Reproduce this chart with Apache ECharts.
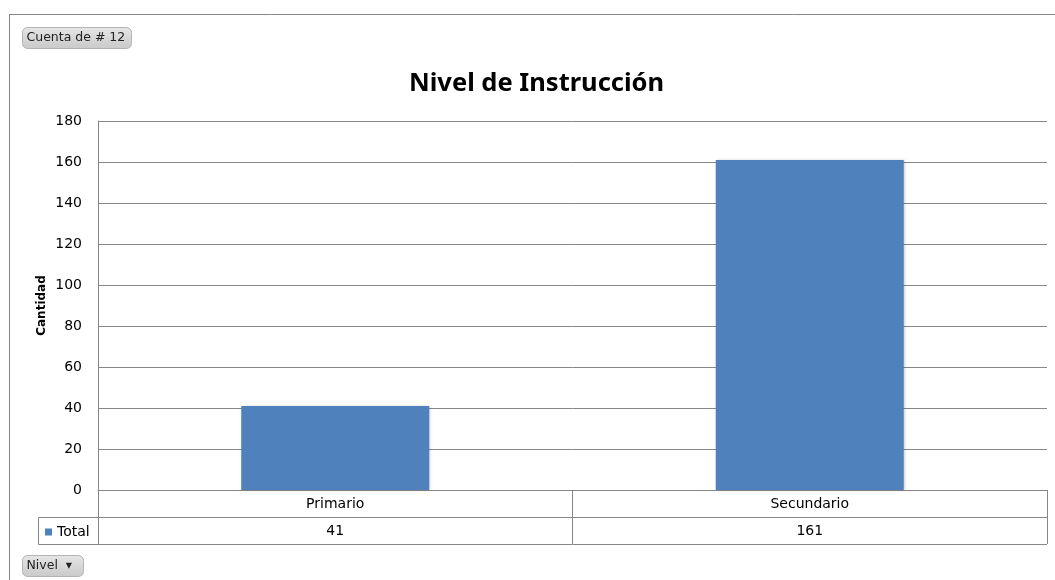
<!DOCTYPE html>
<html lang="es">
<head>
    <meta charset="UTF-8">
    <script src="https://cdn.jsdelivr.net/npm/echarts@6/dist/echarts.min.js"></script>
    <title>Nivel de Instrucción</title>
    <style>
        html, body { margin: 0; padding: 0; background: #fff; }
    </style>
</head>
<body>
<div id="main" style="width: 1055px;height:580px;"></div>
<script type="text/javascript">
    var myChart = echarts.init(document.getElementById('main'));

    // datos
    var categorias = ['Primario', 'Secundario'];
    var totales = [41, 161];
    var yTicks = [0, 20, 40, 60, 80, 100, 120, 140, 160, 180];

    // geometria del area de trazado
    var gl = 98, gr = 1047, gt = 121, gb = 490, fila = 27;
    var gris = '#868686';
    var fuente = 'DejaVu Sans';

    function boton(x, y, w, texto) {
        return {
            type: 'group',
            left: x,
            top: y,
            children: [{
                type: 'rect',
                shape: { x: 0, y: 0, width: w, height: 21, r: 5 },
                style: {
                    fill: new echarts.graphic.LinearGradient(0, 0, 0, 1, [
                        { offset: 0, color: '#e6e6e6' },
                        { offset: 1, color: '#c9c9c9' }
                    ]),
                    stroke: '#b4b4b4',
                    lineWidth: 1
                }
            }, {
                type: 'text',
                x: 4,
                y: 4,
                style: { text: texto, fill: '#222', font: '12.5px "' + fuente + '"' }
            }]
        };
    }

    option = {
        title: {
            text: 'Nivel de Instrucción',
            left: 404,
            top: 66,
            textStyle: { color: '#000', fontSize: 25.5, fontWeight: 'bold', fontFamily: 'Noto Sans' }
        },
        legend: {
            left: 40,
            top: 520,
            itemWidth: 7,
            itemHeight: 7,
            itemGap: 4,
            icon: 'rect',
            selectedMode: false,
            data: ['Total'],
            textStyle: { color: '#000', fontSize: 14, fontFamily: fuente }
        },
        grid: { left: gl, right: 1055 - gr, top: gt, bottom: 580 - gb },
        xAxis: [{
            type: 'category',
            data: categorias,
            position: 'bottom',
            axisLine: { show: true, lineStyle: { color: gris } },
            axisTick: { show: true, length: fila * 2, lineStyle: { color: gris } },
            axisLabel: { color: '#000', fontSize: 14, fontFamily: fuente, margin: 7 }
        }, {
            type: 'category',
            data: totales.map(String),
            position: 'bottom',
            offset: fila,
            axisLine: { show: true, lineStyle: { color: gris } },
            axisTick: { show: false },
            axisLabel: { color: '#000', fontSize: 14, fontFamily: fuente, margin: 7 }
        }],
        yAxis: {
            type: 'value',
            min: yTicks[0],
            max: yTicks[yTicks.length - 1],
            interval: 20,
            name: 'Cantidad',
            nameLocation: 'middle',
            nameRotate: 90,
            nameGap: 50,
            nameMoveOverlap: false,
            nameTextStyle: { color: '#000', fontSize: 12, fontWeight: 'bold', fontFamily: fuente },
            axisLine: { show: true, lineStyle: { color: gris } },
            axisTick: { show: false },
            axisLabel: { color: '#000', fontSize: 14, fontFamily: fuente, margin: 16 },
            splitLine: { show: true, lineStyle: { color: gris } }
        },
        series: [{
            name: 'Total',
            type: 'bar',
            barWidth: 188,
            itemStyle: {
                color: '#4F81BD',
                shadowColor: 'rgba(0,0,0,0.25)',
                shadowBlur: 3,
                shadowOffsetX: 1
            },
            data: totales
        }],
        graphic: [
            // marco exterior
            { type: 'line', shape: { x1: 9, y1: 14.5, x2: 1055, y2: 14.5 }, style: { stroke: gris, lineWidth: 1 } },
            { type: 'line', shape: { x1: 9.5, y1: 14, x2: 9.5, y2: 580 }, style: { stroke: gris, lineWidth: 1 } },
            // tabla de datos
            { type: 'rect', shape: { x: 38.5, y: gb + fila + 0.5, width: gl - 38, height: fila }, style: { fill: 'none', stroke: gris } },
            { type: 'line', shape: { x1: gl, y1: gb + fila * 2 + 0.5, x2: gr, y2: gb + fila * 2 + 0.5 }, style: { stroke: gris } },
            boton(22, 27, 109, 'Cuenta de # 12'),
            boton(22, 555, 61, 'Nivel  \u25BE')
        ]
    };

    myChart.setOption(option);
</script>
</body>
</html>
